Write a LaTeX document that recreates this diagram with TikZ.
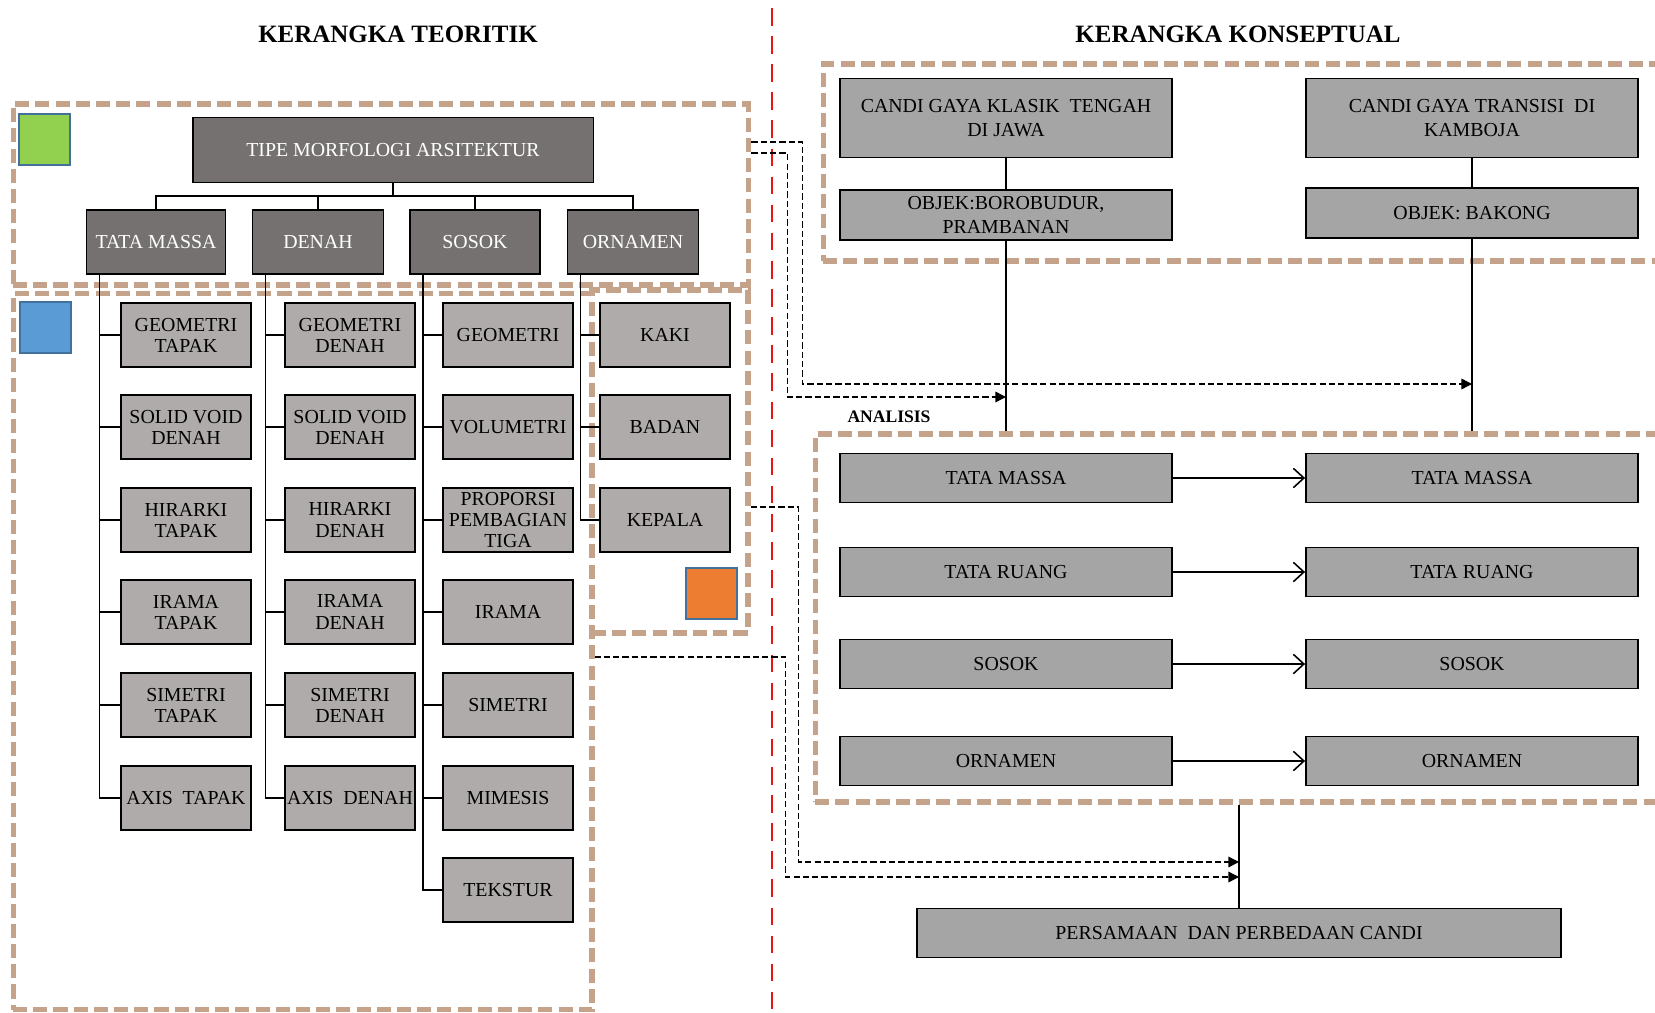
\documentclass[tikz,border=0pt]{standalone}
\usepackage{fontspec}
\setmainfont{Liberation Serif}
\usetikzlibrary{arrows.meta}

\definecolor{boxdark}{RGB}{118,113,113}
\definecolor{boxlight}{RGB}{175,171,171}
\definecolor{boxgrey}{RGB}{165,165,165}
\definecolor{frametan}{RGB}{197,163,138}
\definecolor{tagblue}{RGB}{65,113,156}
\definecolor{sepred}{RGB}{235,20,20}

\tikzset{
	boxfont/.style={font=\fontsize{11.3}{12}\selectfont},
	darkbox/.style={boxfont, draw=black, line width=1.1pt, fill=boxdark, text=white, minimum height=1.28cm, inner sep=1pt, align=center},
	subbox/.style={boxfont, draw=black, line width=1.1pt, fill=boxlight, minimum width=2.6cm, minimum height=1.28cm, inner sep=1pt, align=center},
	candibox/.style={font=\fontsize{11.3}{13.5}\selectfont, draw=black, line width=1.1pt, fill=boxgrey, minimum width=6.64cm, minimum height=0.98cm, inner sep=1pt, align=center},
	frame/.style={draw=frametan, line width=2.9pt, dash pattern=on 8pt off 3.5pt, inner sep=0pt},
	tag/.style={draw=tagblue, line width=0.9pt, minimum size=1.02cm, inner sep=0pt},
	title/.style={font=\bfseries\fontsize{14.2}{16}\selectfont},
	tree/.style={line width=1pt},
	vline/.style={line width=0.9pt},
	link/.style={line width=0.8pt, dash pattern=on 3.5pt off 1.8pt, -{Triangle[length=6pt,width=6pt]}},
	flow/.style={line width=0.9pt, -{Straight Barb[length=6pt,width=11pt]}},
}

\begin{document}
\begin{tikzpicture}[x=0.02cm,y=-0.02cm]
	\clip (0,0) rectangle (1655,1013);
	\node[frame,minimum width=14.72cm,minimum height=3.62cm] (F1) at (381,194.5) {};
	\node[frame,minimum width=11.58cm,minimum height=14.34cm] (F2) at (302.5,651.5) {};
	\node[frame,minimum width=3.12cm,minimum height=6.86cm] (F3) at (670,461.5) {};
	\node[frame,minimum width=17.14cm,minimum height=3.94cm] (F4) at (1251.5,162.5) {};
	\node[frame,minimum width=17.3cm,minimum height=7.36cm] (F5) at (1247.5,618) {};
	\draw[sepred,line width=1.4pt,dash pattern=on 10pt off 6pt] (772,8) -- (772,1013);

	\node[title] (T1) at (398,34) {KERANGKA TEORITIK};
	\node[title] (T2) at (1238,34) {KERANGKA KONSEPTUAL};

	\node[tag,fill={rgb,255:red,146;green,208;blue,80}] (G) at (44.5,139.5) {};
	\node[tag,fill={rgb,255:red,91;green,155;blue,213}] (H) at (45.5,327.5) {};
	\node[tag,fill={rgb,255:red,237;green,125;blue,49}] (O) at (711.5,593.5) {};

	\node[darkbox,minimum width=8.02cm,minimum height=1.3cm] (TP) at (393,150) {TIPE MORFOLOGI ARSITEKTUR};
	\node[darkbox,minimum width=2.78cm] (TM) at (156,242) {TATA MASSA};
	\node[darkbox,minimum width=2.62cm] (DN) at (318,242) {DENAH};
	\node[darkbox,minimum width=2.6cm] (SS) at (475,242) {SOSOK};
	\node[darkbox,minimum width=2.62cm] (OR) at (633,242) {ORNAMEN};

	\node[subbox] (A1) at (186,335) {GEOMETRI\\TAPAK};
	\node[subbox] (A2) at (186,427) {SOLID VOID\\DENAH};
	\node[subbox] (A3) at (186,520) {HIRARKI\\TAPAK};
	\node[subbox] (A4) at (186,612) {IRAMA\\TAPAK};
	\node[subbox] (A5) at (186,705) {SIMETRI\\TAPAK};
	\node[subbox] (A6) at (186,798) {AXIS\ \ TAPAK};

	\node[subbox] (B1) at (350,335) {GEOMETRI\\DENAH};
	\node[subbox] (B2) at (350,427) {SOLID VOID\\DENAH};
	\node[subbox] (B3) at (350,520) {HIRARKI\\DENAH};
	\node[subbox] (B4) at (350,612) {IRAMA\\DENAH};
	\node[subbox] (B5) at (350,705) {SIMETRI\\DENAH};
	\node[subbox] (B6) at (350,798) {AXIS\ \ DENAH};

	\node[subbox] (C1) at (508,335) {GEOMETRI};
	\node[subbox] (C2) at (508,427) {VOLUMETRI};
	\node[subbox] (C3) at (508,520) {PROPORSI\\PEMBAGIAN\\TIGA};
	\node[subbox] (C4) at (508,612) {IRAMA};
	\node[subbox] (C5) at (508,705) {SIMETRI};
	\node[subbox] (C6) at (508,798) {MIMESIS};
	\node[subbox] (C7) at (508,890) {TEKSTUR};

	\node[subbox] (D1) at (665,335) {KAKI};
	\node[subbox] (D2) at (665,427) {BADAN};
	\node[subbox] (D3) at (665,520) {KEPALA};

	\coordinate (bar) at (393,196);
	\draw[tree] (TP) -- (bar);
	\draw[tree] (TM) |- (bar);
	\draw[tree] (DN) |- (bar);
	\draw[tree] (SS) |- (bar);
	\draw[tree] (OR) |- (bar);

	\draw[tree] ([xshift=0.28cm]TM.south west) |- (A6.west);
	\draw[tree] (A1.west) -- ++(-20,0);
	\draw[tree] (A2.west) -- ++(-20,0);
	\draw[tree] (A3.west) -- ++(-20,0);
	\draw[tree] (A4.west) -- ++(-20,0);
	\draw[tree] (A5.west) -- ++(-20,0);
	\draw[tree] ([xshift=0.28cm]DN.south west) |- (B6.west);
	\draw[tree] (B1.west) -- ++(-18,0);
	\draw[tree] (B2.west) -- ++(-18,0);
	\draw[tree] (B3.west) -- ++(-18,0);
	\draw[tree] (B4.west) -- ++(-18,0);
	\draw[tree] (B5.west) -- ++(-18,0);
	\draw[tree] ([xshift=0.28cm]SS.south west) |- (C7.west);
	\draw[tree] (C1.west) -- ++(-18,0);
	\draw[tree] (C2.west) -- ++(-18,0);
	\draw[tree] (C3.west) -- ++(-18,0);
	\draw[tree] (C4.west) -- ++(-18,0);
	\draw[tree] (C5.west) -- ++(-18,0);
	\draw[tree] (C6.west) -- ++(-18,0);
	\draw[tree] ([xshift=0.28cm]OR.south west) |- (D3.west);
	\draw[tree] (D1.west) -- ++(-18,0);
	\draw[tree] (D2.west) -- ++(-18,0);

	\node[candibox,minimum height=1.58cm] (J) at (1006,118) {CANDI GAYA KLASIK\ \ TENGAH\\DI JAWA};
	\node[candibox,minimum height=1.58cm] (K) at (1472,118) {CANDI GAYA TRANSISI\ \ DI\\KAMBOJA};
	\node[candibox,minimum height=1cm] (J0) at (1006,215) {OBJEK:BOROBUDUR,\\PRAMBANAN};
	\node[candibox,minimum height=1cm] (K0) at (1472,213) {OBJEK: BAKONG};
	\draw[vline] (J) -- (J0);
	\draw[vline] (K) -- (K0);
	\draw[vline] (J0) -- (J0 |- F5.north);
	\draw[vline] (K0) -- (K0 |- F5.north);

	\node[font=\bfseries\fontsize{10}{12}\selectfont] (AN) at (889,417) {ANALISIS};

	\node[candibox] (J1) at (1006,478) {TATA MASSA};
	\node[candibox] (J2) at (1006,572) {TATA RUANG};
	\node[candibox] (J3) at (1006,664) {SOSOK};
	\node[candibox] (J4) at (1006,761) {ORNAMEN};
	\node[candibox] (K1) at (1472,478) {TATA MASSA};
	\node[candibox] (K2) at (1472,572) {TATA RUANG};
	\node[candibox] (K3) at (1472,664) {SOSOK};
	\node[candibox] (K4) at (1472,761) {ORNAMEN};
	\draw[flow] (J1) -- (K1);
	\draw[flow] (J2) -- (K2);
	\draw[flow] (J3) -- (K3);
	\draw[flow] (J4) -- (K4);

	\node[candibox,minimum width=12.88cm] (P) at (1239,933) {PERSAMAAN\ \ DAN PERBEDAAN CANDI};
	\draw[vline] (F5.south -| P) -- (P);

	\coordinate (sA) at (F1.east |- 0,142);
	\coordinate (eA) at (K0 |- 0,384);
	\coordinate (sB) at (F1.east |- 0,153);
	\coordinate (eB) at (J0 |- 0,397);
	\coordinate (sC) at (F3.east |- 0,507);
	\coordinate (eC) at (P |- 0,862);
	\coordinate (sD) at (F2.east |- 0,657);
	\coordinate (eD) at (P |- 0,877);
	\draw[link] (sA) -- ++(51,0) |- (eA);
	\draw[link] (sB) -- ++(36,0) |- (eB);
	\draw[link] (sC) -- ++(48,0) |- (eC);
	\draw[link] (sD) -- ++(191,0) |- (eD);
\end{tikzpicture}
\end{document}
